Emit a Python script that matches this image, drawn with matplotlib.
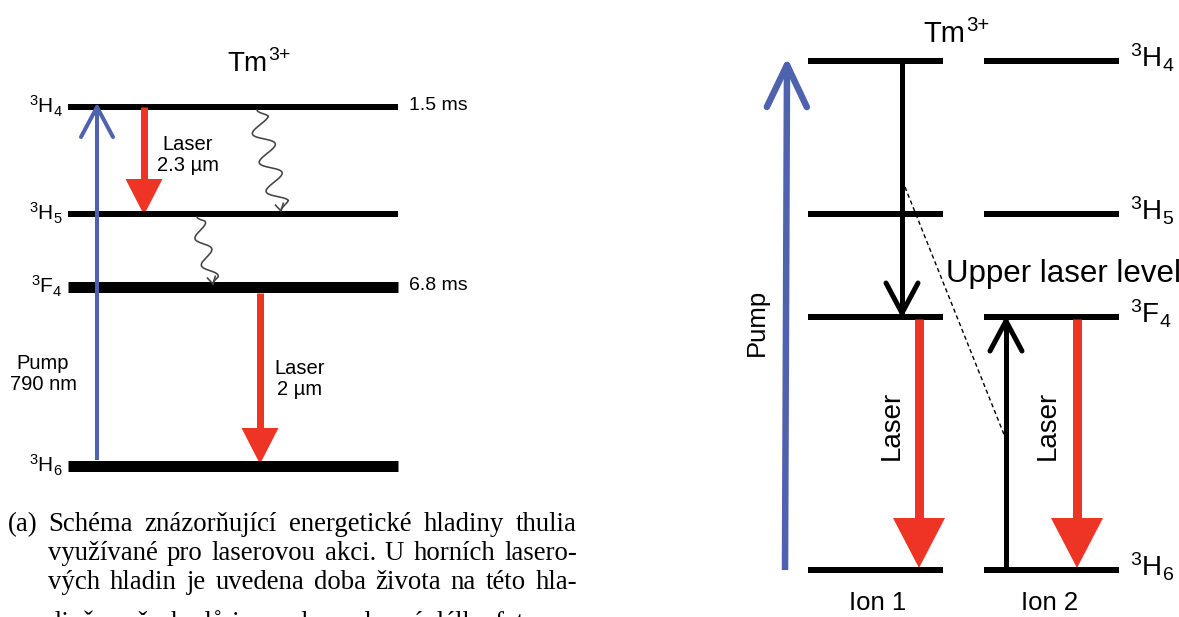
import matplotlib
matplotlib.use("Agg")
import matplotlib.pyplot as plt
import numpy as np
from matplotlib.patches import Polygon

plt.rcParams['font.family'] = ['Liberation Sans', 'DejaVu Sans']
plt.rcParams['mathtext.default'] = 'regular'

W, H = 1179, 617
PT = 0.72  # pixel -> point at dpi 100

# ---------------- data ----------------
title_base, title_sup = 'Tm', '3+'
level_names = ['3H4', '3H5', '3F4', '3H6']
level_labels = [r'$^{3}$H$_{4}$', r'$^{3}$H$_{5}$', r'$^{3}$F$_{4}$', r'$^{3}$H$_{6}$']

# left panel (a)
left_level_y = [107, 214, 287, 466]
left_level_thick = [6, 6, 11, 11]
left_lifetimes = ['1.5 ms', '', '6.8 ms', '']
left_radiative = [  # (x, from, to, kind)
    (97, '3H6', '3H4', 'pump'),
    (144, '3H4', '3H5', 'laser'),
    (260, '3F4', '3H6', 'laser'),
]
left_nonrad = [  # (x_start, x_end, from, to, periods)
    (257, 281, '3H4', '3H5', 3.5),
    (197, 213, '3H5', '3F4', 2.5),
]
left_texts = ['Laser\n2.3 µm', 'Laser\n2 µm', 'Pump\n790 nm']

# right panel
right_level_y = [61, 214, 317, 570]
ion_labels = ['Ion 1', 'Ion 2']
ion_x = [(808, 943), (984, 1119)]
right_transitions = [  # (x, from, to, kind)
    (902, '3H4', '3F4', 'black'),
    (919, '3F4', '3H6', 'laser'),
    (1006, '3H6', '3F4', 'black'),
    (1077, '3F4', '3H6', 'laser'),
]
upper_label = 'Upper laser level'

caption_lines = [
    '(a) Schéma znázorňující energetické hladiny thulia',
    'využívané pro laserovou akci. U horních lasero-',
    'vých hladin je uvedena doba života na této hla-',
    'dině, u přechodů je uvedena vlnová délka fotonu.',
]

BLUE = '#4E62AE'
RED = '#EE3425'

fig = plt.figure(figsize=(W / 100, H / 100), dpi=100)
ax = fig.add_axes([0, 0, 1, 1])
ax.set_xlim(0, W)
ax.set_ylim(H, 0)
ax.axis('off')
renderer = fig.canvas.get_renderer()


def open_arrow(x0, y0, x1, y1, color, lw_px, head_len, head_half):
    ax.plot([x0, x1], [y0, y1], color=color, lw=lw_px * PT, solid_capstyle='butt')
    d = np.array([x1 - x0, y1 - y0], float)
    d /= np.hypot(*d)
    n = np.array([-d[1], d[0]])
    tip = np.array([x1, y1])
    for s in (-1, 1):
        w = tip - d * head_len + s * n * head_half
        ax.plot([tip[0], w[0]], [tip[1], w[1]], color=color, lw=lw_px * PT,
                solid_capstyle='round')


def filled_arrow(x, y0, y1, color, lw_px, head_len, head_half):
    sgn = np.sign(y1 - y0)
    base = y1 - sgn * head_len
    ax.plot([x, x], [y0, base + sgn * 1], color=color, lw=lw_px * PT, solid_capstyle='butt')
    ax.add_patch(Polygon([[x - head_half, base], [x + head_half, base], [x, y1]],
                         closed=True, color=color, lw=0))


def wavy(x0, y0, x1, y1, periods, amp, color='#444444'):
    t = np.linspace(0, 1, 300)
    d = np.array([x1 - x0, y1 - y0], float)
    L = np.hypot(*d)
    d /= L
    n = np.array([d[1], -d[0]])
    off = amp * np.sin(2 * np.pi * periods * t) * np.clip(np.minimum(t, 1 - t) * 12, 0, 1)
    xs = x0 + d[0] * L * t + n[0] * off
    ys = y0 + d[1] * L * t + n[1] * off
    ax.plot(xs, ys, color=color, lw=1.6 * PT)
    tip = np.array([x1, y1])
    for s in (-1, 1):
        w = tip - d * 7 + s * n * 4
        ax.plot([tip[0], w[0]], [tip[1], w[1]], color=color, lw=1.6 * PT)


def ion_title(xc, y, size):
    t1 = ax.text(0, y, title_base, ha='left', va='center', fontsize=size)
    t2 = ax.text(0, y - size * 0.42, title_sup, ha='left', va='center', fontsize=size * 0.7)
    w1 = t1.get_window_extent(renderer).width
    w2 = t2.get_window_extent(renderer).width
    x0 = xc - (w1 + w2) / 2
    t1.set_x(x0)
    t2.set_x(x0 + w1 + 0.5)


# ---------------- left panel ----------------
ly = dict(zip(level_names, left_level_y))
lt = dict(zip(level_names, left_level_thick))
for name, lab, y, th, life in zip(level_names, level_labels, left_level_y,
                                  left_level_thick, left_lifetimes):
    ax.plot([68, 398], [y, y], color='black', lw=th * PT, solid_capstyle='butt')
    ax.text(63, y - 1, lab, ha='right', va='center', fontsize=15)
    if life:
        ax.text(409, y - 1, life, ha='left', va='center', fontsize=14)

ion_title(259, 64, 20)

for x, a, b, kind in left_radiative:
    if kind == 'pump':
        open_arrow(x, ly[a] - lt[a] / 2 - 0.5, x, ly[b], BLUE, 4, 30, 16)
    else:
        y0 = ly[a] + (0 if ly[a] < 200 else lt[a] / 2)
        y1 = ly[b] + (1 if ly[b] < 300 else -2)
        filled_arrow(x, y0, y1, RED, 7, 36, 18.5)

for xa, xb, a, b, per in left_nonrad:
    wavy(xa, ly[a] + 3, xb, ly[b] - 3, per, 10 if per > 3 else 7)

ax.text(188, 155, left_texts[0], ha='center', va='center', fontsize=14.5, linespacing=1.15)
ax.text(300, 379, left_texts[1], ha='center', va='center', fontsize=14.5, linespacing=1.15)
ax.text(43, 374, left_texts[2], ha='center', va='center', fontsize=14.5, linespacing=1.15)

# ---------------- caption ----------------
cap_kw = dict(fontsize=19.3, family='Liberation Serif', va='baseline', ha='left')
cap_base = [531, 560, 589, 630]
cap_x0 = [8, 48, 48, 48]
for i, line in enumerate(caption_lines):
    words = line.split(' ')
    if i == 0:
        ax.text(cap_x0[0], cap_base[0], words[0], **cap_kw)
        words = words[1:]
        x0 = 48
    else:
        x0 = cap_x0[i]
    texts = [ax.text(0, cap_base[i], w, **cap_kw) for w in words]
    widths = [t.get_window_extent(renderer).width for t in texts]
    if i < 3:
        gap = (577 - x0 - sum(widths)) / (len(words) - 1)
    else:
        gap = 6
    x = x0
    for t, w in zip(texts, widths):
        t.set_x(x)
        x += w + gap

# ---------------- right panel ----------------
ry = dict(zip(level_names, right_level_y))
for lab, y in zip(level_labels, right_level_y):
    for xa, xb in ion_x:
        ax.plot([xa, xb], [y, y], color='black', lw=6 * PT, solid_capstyle='butt')
    ax.text(1130, y - 3, lab, ha='left', va='center', fontsize=20)

ion_title(956, 34, 21)

# pump arrow spanning the whole ion 1 ladder
open_arrow(785, ry['3H6'], 787, ry['3H4'] + 4, BLUE, 6.5, 42, 20)
ax.text(757, 322, 'Pump', rotation=90, ha='center', va='center', fontsize=18.5)

for x, a, b, kind in right_transitions:
    if kind == 'black':
        sgn = np.sign(ry[b] - ry[a])
        y0 = ry[a] + sgn * (0 if a == '3H4' else -2)
        y1 = ry[b] - sgn * 4
        open_arrow(x, y0, x, y1, 'black', 5, 30, 16)
    else:
        filled_arrow(x, ry[a] + 2, ry[b] - 2, RED, 9, 50, 26)

for xl in [892, 1048]:
    ax.text(xl, 425, 'Laser', rotation=90, ha='center', va='center', fontsize=20)
ax.text(878, 603, ion_labels[0], ha='center', va='center', fontsize=18.5)
ax.text(1050, 603, ion_labels[1], ha='center', va='center', fontsize=18.5)

ax.plot([905, 1005], [187, 437], color='black', lw=1.4 * PT, ls=(0, (3, 2.2)))
ax.text(946, 274, upper_label, ha='left', va='center', fontsize=22.5)

fig.savefig('out.png', dpi=100)
